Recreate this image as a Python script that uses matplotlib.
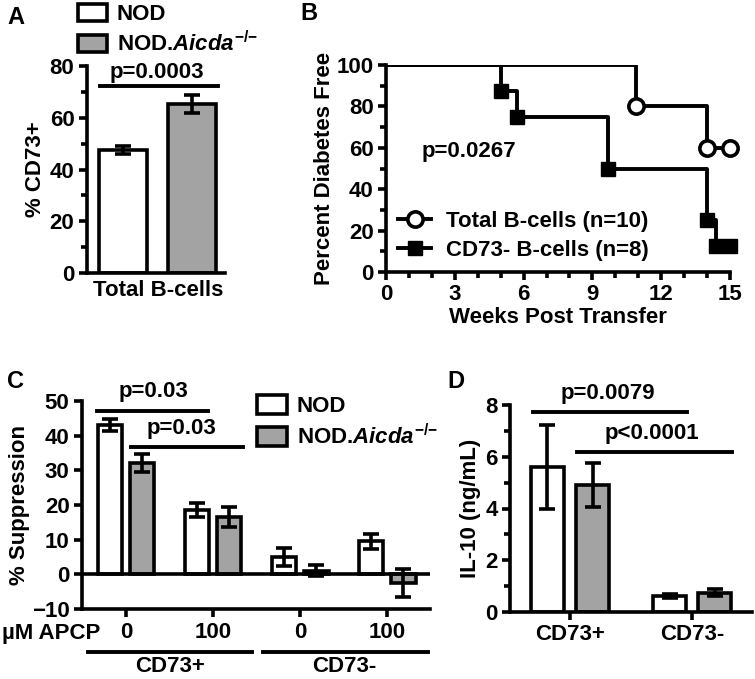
import matplotlib.pyplot as plt
from matplotlib.patches import Patch
from matplotlib.lines import Line2D
from matplotlib.ticker import MultipleLocator
import matplotlib.transforms as mtransforms

FS = 16
LW = 2.6

plt.rcParams.update({
    "font.family": "Liberation Sans",
    "font.weight": "bold",
    "font.size": FS,
    "axes.labelweight": "bold",
    "axes.linewidth": LW,
    "xtick.major.width": LW,
    "ytick.major.width": LW,
    "xtick.minor.width": LW,
    "ytick.minor.width": LW,
    "xtick.major.size": 6,
    "ytick.major.size": 6,
    "xtick.minor.size": 4,
    "ytick.minor.size": 4,
    "mathtext.fontset": "custom",
    "mathtext.rm": "Liberation Sans:bold",
    "mathtext.it": "Liberation Sans:italic:bold",
    "mathtext.bf": "Liberation Sans:bold",
})

WHITE = "white"
GRAY = "#a3a3a3"
AICDA = r"NOD.$\mathit{Aicda}^{{-}/{-}}$"

# Panel A: % CD73+ of total B-cells
a_labels = ["NOD", AICDA]
a_mean = [47.6, 65.3]
a_err = [1.5, 3.6]

# Panel B: diabetes-free survival
weeks_total = [0, 10.9, 14, 15]
free_total = [100, 80, 60, 60]
weeks_cd73n = [0, 5, 5.7, 9.7, 14, 14.4, 15]
free_cd73n = [100, 87.5, 75, 50, 25, 12.5, 12.5]

# Panel C: % suppression
c_doses = ["0", "100", "0", "100"]
c_groups = ["CD73+", "CD73-"]
c_nod = [43.1, 18.5, 5.0, 9.5]
c_nod_err = [1.7, 2.0, 2.5, 2.1]
c_aicda = [32.1, 16.5, 1.0, -2.5]
c_aicda_err = [2.6, 2.8, 1.6, 3.9]

# Panel D: IL-10
d_groups = ["CD73+", "CD73-"]
d_nod = [5.6, 0.62]
d_nod_err = [1.62, 0.06]
d_aicda = [4.9, 0.75]
d_aicda_err = [0.85, 0.12]

W, H = 755, 679
fig = plt.figure(figsize=(W / 100, H / 100), dpi=100)


def px_axes(x0, x1, ytop, ybot):
    return fig.add_axes([x0 / W, 1 - ybot / H, (x1 - x0) / W, (ybot - ytop) / H])


def style(ax):
    for s in ["top", "right"]:
        ax.spines[s].set_visible(False)
    ax.tick_params(labelsize=FS, pad=3)


bar_kw = dict(edgecolor="black", linewidth=LW, zorder=2)
err_kw = dict(fmt="none", ecolor="black", elinewidth=LW, capsize=6, capthick=LW, zorder=3)

# ---------------- A ----------------
ax = px_axes(87, 225, 66, 273)
style(ax)
xa = [0, 1]
ax.bar(xa, a_mean, width=0.69, color=[WHITE, GRAY], **bar_kw)
ax.errorbar(xa, a_mean, yerr=a_err, **err_kw)
ax.set_xlim(-0.52, 1.47)
ax.set_ylim(0, 80)
ax.yaxis.set_major_locator(MultipleLocator(20))
ax.yaxis.set_minor_locator(MultipleLocator(10))
ax.set_xticks([0.5])
ax.set_xticklabels(["Total B-cells"])
ax.tick_params(axis="x", length=0, pad=5)
ax.set_ylabel("% CD73+", labelpad=3)
ax.plot([-0.33, 1.37], [72.3, 72.3], color="black", lw=2.8, clip_on=False)
ax.text(0.49, 73.5, "p=0.0003", ha="center", va="bottom", fontsize=FS)
handles = [Patch(facecolor=c, edgecolor="black", linewidth=LW) for c in [WHITE, GRAY]]
ax.legend(handles, a_labels, loc="upper left", bbox_to_anchor=(78 / W, 1 - 4 / H),
          bbox_transform=fig.transFigure, frameon=False, handlelength=1.3,
          handleheight=0.8, handletextpad=0.45, labelspacing=0.25, borderpad=0,
          borderaxespad=0, fontsize=FS)
fig.text(7 / W, 1 - 18 / H, "A", fontsize=17, va="center", ha="left")

# ---------------- B ----------------
ax = px_axes(386, 730, 65, 272)
style(ax)
ax.step(weeks_total, free_total, where="post", color="black", lw=2.8, zorder=2)
ax.step(weeks_cd73n, free_cd73n, where="post", color="black", lw=2.8, zorder=2)
ax.plot(weeks_total[1:], free_total[1:], "o", ms=11, mfc="white", mec="black", mew=2.6,
        zorder=3, clip_on=False)
ax.plot(weeks_cd73n[1:], free_cd73n[1:], "s", ms=10, color="black", zorder=3, clip_on=False)
ax.set_xlim(0, 15)
ax.set_ylim(0, 100)
ax.xaxis.set_major_locator(MultipleLocator(3))
ax.xaxis.set_minor_locator(MultipleLocator(1))
ax.yaxis.set_major_locator(MultipleLocator(20))
ax.yaxis.set_minor_locator(MultipleLocator(10))
ax.set_xlabel("Weeks Post Transfer", labelpad=1)
ax.set_ylabel("Percent Diabetes Free", labelpad=1)
ax.text(1.57, 58, "p=0.0267", ha="left", va="center", fontsize=FS)
lh = [Line2D([], [], color="black", lw=2.8, marker="o", ms=11, mfc="white", mec="black", mew=2.6),
      Line2D([], [], color="black", lw=2.8, marker="s", ms=10)]
ax.legend(lh, ["Total B-cells (n=10)", "CD73- B-cells (n=8)"], loc="lower left",
          bbox_to_anchor=(0.035, 0.055), frameon=False, handlelength=1.5,
          handletextpad=0.65, labelspacing=0.35, borderpad=0, borderaxespad=0, fontsize=FS)
fig.text(300 / W, 1 - 13 / H, "B", fontsize=17, va="center", ha="left")

# ---------------- C ----------------
ax = px_axes(82, 430, 401, 609)
style(ax)
xc = list(range(len(c_doses)))
off = 0.185
xn = [x - off for x in xc]
xg = [x + off for x in xc]
ax.bar(xn, c_nod, width=0.28, color=WHITE, **bar_kw)
ax.bar(xg, c_aicda, width=0.28, color=GRAY, **bar_kw)
ax.errorbar(xn, c_nod, yerr=c_nod_err, **err_kw)
ax.errorbar(xg, c_aicda, yerr=c_aicda_err, **err_kw)
ax.axhline(0, color="black", lw=LW, zorder=4)
ax.set_xlim(-0.506, 3.49)
ax.set_ylim(-10, 50)
ax.yaxis.set_major_locator(MultipleLocator(10))
ax.set_xticks(xc)
ax.set_xticklabels(c_doses)
ax.tick_params(axis="x", pad=3)
ax.set_ylabel("% Suppression", labelpad=1)
ax.plot([-0.33, 0.94], [47.1, 47.1], color="black", lw=2.8, clip_on=False)
ax.text(0.31, 52.6, "p=0.03", ha="center", va="center", fontsize=FS, clip_on=False)
ax.plot([0.06, 1.34], [36.7, 36.7], color="black", lw=2.8, clip_on=False)
ax.text(0.64, 42.2, "p=0.03", ha="center", va="center", fontsize=FS)
trans = mtransforms.blended_transform_factory(ax.transData, ax.transAxes)
for (x0, x1), name, xm in zip([(-0.44, 1.45), (1.57, 3.47)], c_groups, [0.5, 2.5]):
    ax.plot([x0, x1], [-0.207, -0.207], color="black", lw=2.8, transform=trans, clip_on=False)
    ax.text(xm, -0.275, name, transform=trans, ha="center", va="center", fontsize=FS)
fig.text(2 / W, 1 - 633 / H, "µM APCP", fontsize=FS, va="center", ha="left")
ax.legend(handles, a_labels, loc="upper left", bbox_to_anchor=(257 / W, 1 - 395 / H),
          bbox_transform=fig.transFigure, frameon=False, handlelength=1.35,
          handleheight=0.95, handletextpad=0.45, labelspacing=0.3, borderpad=0,
          borderaxespad=0, fontsize=FS)
fig.text(7 / W, 1 - 382 / H, "C", fontsize=17, va="center", ha="left")

# ---------------- D ----------------
ax = px_axes(510, 752, 405, 612)
style(ax)
xd = list(range(len(d_groups)))
xn = [x - off for x in xd]
xg = [x + off for x in xd]
ax.bar(xn, d_nod, width=0.27, color=WHITE, **bar_kw)
ax.bar(xg, d_aicda, width=0.27, color=GRAY, **bar_kw)
ax.errorbar(xn, d_nod, yerr=d_nod_err, **err_kw)
ax.errorbar(xg, d_aicda, yerr=d_aicda_err, **err_kw)
ax.set_xlim(-0.49, 1.49)
ax.set_ylim(0, 8)
ax.yaxis.set_major_locator(MultipleLocator(2))
ax.yaxis.set_minor_locator(MultipleLocator(1))
ax.set_xticks(xd)
ax.set_xticklabels(d_groups)
ax.set_ylabel("IL-10 (ng/mL)", labelpad=3)
ax.plot([-0.30, 0.96], [7.73, 7.73], color="black", lw=2.8, clip_on=False)
ax.text(0.31, 8.46, "p=0.0079", ha="center", va="center", fontsize=FS)
ax.plot([0.06, 1.33], [6.18, 6.18], color="black", lw=2.8, clip_on=False)
ax.text(0.67, 6.9, "p<0.0001", ha="center", va="center", fontsize=FS)
fig.text(447 / W, 1 - 382 / H, "D", fontsize=17, va="center", ha="left")

fig.savefig("out.png", dpi=100)
